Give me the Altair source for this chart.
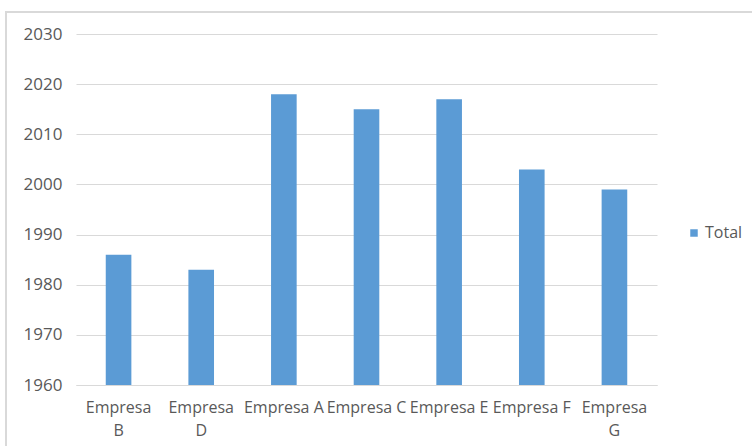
import altair as alt
import pandas as pd

empresas = ["Empresa B", "Empresa D", "Empresa A", "Empresa C", "Empresa E", "Empresa F", "Empresa G"]
totales = [1986, 1983, 2018, 2015, 2017, 2003, 1999]
serie = ["Total"] * len(empresas)

df = pd.DataFrame({"Empresa": empresas, "Total": totales, "Serie": serie})

FONT = "Open Sans"
GRAY = "#595959"

bars = alt.Chart(df).mark_bar(clip=True).encode(
    x=alt.X("Empresa:N", sort=empresas, title=None,
            scale=alt.Scale(paddingInner=0.69, paddingOuter=0.36),
            axis=alt.Axis(labelAngle=0, domainColor="#D9D9D9", ticks=False,
                          labelPadding=14, labelFontSize=16, labelColor=GRAY,
                          labelFont=FONT, labelLineHeight=23, labelLimit=200,
                          labelExpr="indexof(['Empresa B','Empresa D','Empresa G'], datum.label) >= 0 ? split(datum.label, ' ') : datum.label")),
    y=alt.Y("Total:Q", title=None,
            scale=alt.Scale(domain=[1960, 2030], zero=False, nice=False),
            axis=alt.Axis(values=list(range(1960, 2031, 10)), format="d", domain=False, ticks=False,
                          labelPadding=14, labelFontSize=17, labelColor=GRAY, labelFont=FONT,
                          gridColor="#D9D9D9")),
    color=alt.Color("Serie:N", title=None,
                    scale=alt.Scale(range=["#5B9BD5"]),
                    legend=alt.Legend(orient="none", legendX=610, legendY=191,
                                      symbolType="square", symbolSize=56,
                                      symbolStrokeWidth=0, labelFontSize=16,
                                      labelColor=GRAY, labelFont=FONT, labelOffset=3)),
)

border = alt.Chart(df).mark_rect(fill=None, stroke="#D9D9D9", strokeWidth=1.5).encode(
    x=alt.value(-70), x2=alt.value(700), y=alt.value(-22), y2=alt.value(450)
)

chart = alt.layer(border, bars).properties(
    width=581, height=351,
    padding={"left": 76, "top": 34, "right": 95, "bottom": 61},
    autosize=alt.AutoSizeParams(type="none"),
    background="white",
).configure_view(stroke=None)

chart.save("out.html", embed_options={"renderer": "svg", "actions": False})
